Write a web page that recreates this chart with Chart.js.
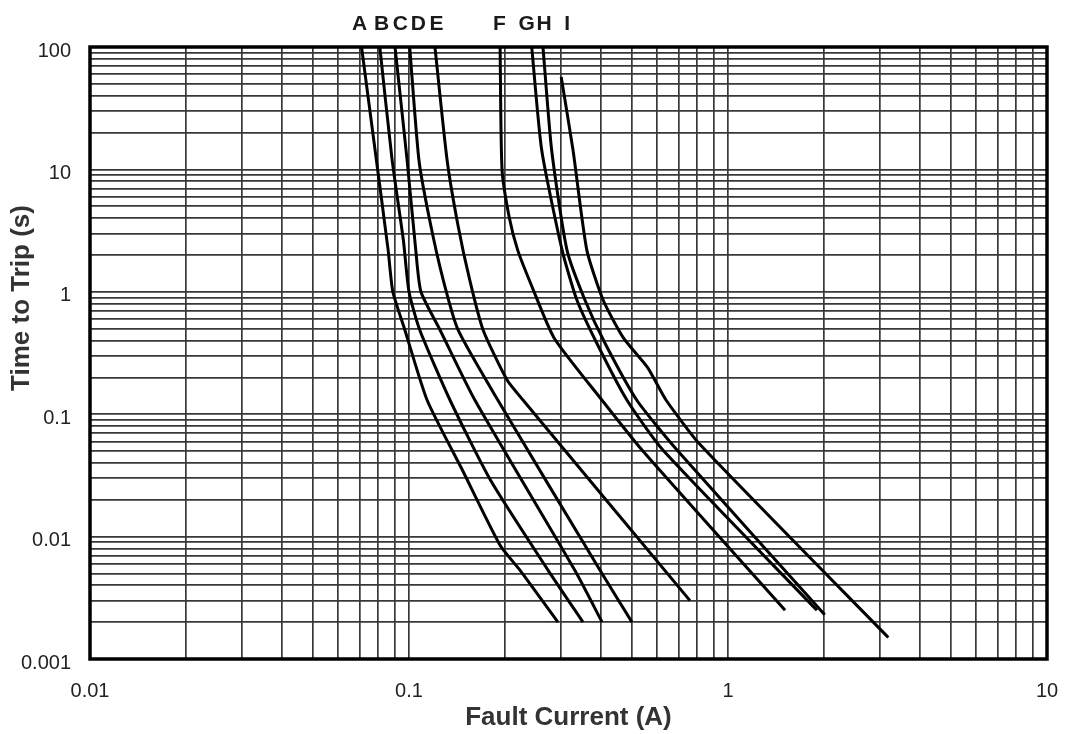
<!DOCTYPE html>
<html>
<head>
<meta charset="utf-8">
<script src="https://cdn.jsdelivr.net/npm/chart.js@4.4.0/dist/chart.umd.min.js"></script>
<style>
  html, body { margin: 0; padding: 0; background: #fff; overflow: hidden; }
  #wrap { width: 1065px; height: 734px; }
  canvas { display: block; }
</style>
</head>
<body>
<div id="wrap"><canvas id="tripChart"></canvas></div>
<script>
// curve names and where their letters sit along the top (in amps)
const curveNames = ['A', 'B', 'C', 'D', 'E', 'F', 'G', 'H', 'I'];
const labelX = [0.070, 0.082, 0.094, 0.107, 0.122, 0.192, 0.234, 0.265, 0.313];

// [fault current (A), time to trip (s)]
const curveA = [[0.071, 100], [0.079, 12], [0.086, 2.2], [0.089, 1], [0.097, 0.49], [0.114, 0.13], [0.147, 0.035], [0.193, 0.0085], [0.223, 0.0053], [0.293, 0.002]];
const curveB = [[0.081, 100], [0.0885, 12], [0.096, 2.65], [0.1, 1], [0.108, 0.49], [0.1345, 0.13], [0.18, 0.029], [0.273, 0.0053], [0.351, 0.002]];
const curveC = [[0.0904, 100], [0.0986, 12], [0.105, 2.19], [0.109, 1], [0.125, 0.49], [0.161, 0.13], [0.331, 0.0053], [0.403, 0.002]];
const curveD = [[0.1005, 100], [0.1074, 12], [0.116, 3.9], [0.128, 1.25], [0.1424, 0.49], [0.19, 0.13], [0.397, 0.0053], [0.5, 0.002]];
const curveE = [[0.1206, 100], [0.1316, 12], [0.1424, 3.5], [0.155, 1.25], [0.1706, 0.49], [0.203, 0.19], [0.228, 0.13], [0.76, 0.003]];
const curveF = [[0.193, 100], [0.1957, 10], [0.206, 4.1], [0.219, 2.2], [0.243, 1.1], [0.285, 0.42], [0.403, 0.13], [0.5375, 0.051], [1.51, 0.0025]];
const curveG = [[0.2425, 100], [0.2606, 14.4], [0.302, 2.19], [0.336, 0.857], [0.388, 0.38], [0.4825, 0.13], [0.625, 0.051], [1.9, 0.0025]];
const curveH = [[0.263, 100], [0.28, 14.4], [0.3128, 2.19], [0.356, 0.857], [0.4116, 0.38], [0.518, 0.13], [0.692, 0.051], [2.01, 0.0023]];
const curveI = [[0.30, 57], [0.3267, 14.4], [0.361, 2.19], [0.406, 0.857], [0.47, 0.42], [0.56, 0.24], [0.64, 0.13], [0.82, 0.056], [3.18, 0.0015]];

const allCurves = [curveA, curveB, curveC, curveD, curveE, curveF, curveG, curveH, curveI];

// axis decades and their labels
const xMajor = [0.01, 0.1, 1, 10];
const xLabels = ['0.01', '0.1', '1', '10'];
const yMajor = [0.001, 0.01, 0.1, 1, 10, 100];
const yLabels = ['0.001', '0.01', '0.1', '1', '10', '100'];
const steps = [1, 2, 3, 4, 5, 6, 7, 8, 9];

const xTitle = 'Fault Current (A)';
const yTitle = 'Time to Trip (s)';

const FONT = '"Liberation Sans", Arial, sans-serif';

// 1..9 grid lines per decade
function logGrid(major) {
  const out = [];
  major.forEach((m, i) => {
    if (i === major.length - 1) { out.push(m); return; }
    steps.forEach(s => out.push(+(m * s).toPrecision(3)));
  });
  return out;
}

function labelFor(major, labels) {
  return (v) => {
    const i = major.findIndex(m => Math.abs(m - v) / m < 1e-6);
    return i >= 0 ? labels[i] : '';
  };
}

// frame, curve letters and the side title
const decorPlugin = {
  id: 'decor',
  afterDraw(chart) {
    const { ctx, chartArea, scales } = chart;
    ctx.save();
    ctx.strokeStyle = '#000';
    ctx.lineWidth = 3.5;
    ctx.strokeRect(chartArea.left, chartArea.top, chartArea.right - chartArea.left, chartArea.bottom - chartArea.top);

    ctx.font = 'bold 21px ' + FONT;
    ctx.fillStyle = '#1a1a1a';
    ctx.textAlign = 'center';
    ctx.textBaseline = 'alphabetic';
    curveNames.forEach((n, i) => {
      ctx.fillText(n, scales.x.getPixelForValue(labelX[i]), 30);
    });

    ctx.translate(22, 298);
    ctx.rotate(-Math.PI / 2);
    ctx.font = 'bold 26px ' + FONT;
    ctx.fillStyle = '#333';
    ctx.textBaseline = 'middle';
    ctx.fillText(yTitle, 0, 0);
    ctx.restore();
  }
};

const ctx = document.getElementById('tripChart').getContext('2d');

new Chart(ctx, {
  type: 'line',
  data: {
    datasets: allCurves.map((c, i) => ({
      label: curveNames[i],
      data: c.map(p => ({ x: p[0], y: p[1] })),
      borderColor: '#000',
      borderWidth: 3,
      pointRadius: 0,
      tension: 0.2,
      fill: false
    }))
  },
  options: {
    responsive: true,
    maintainAspectRatio: false,
    animation: false,
    layout: { padding: { top: 47, right: 18, left: 0, bottom: 0 } },
    plugins: {
      legend: { display: false },
      tooltip: { enabled: false }
    },
    scales: {
      x: {
        type: 'logarithmic',
        min: 0.01,
        max: 10,
        afterBuildTicks: (s) => { s.ticks = logGrid(xMajor).map(v => ({ value: v })); },
        afterFit: (s) => { s.height = 75; },
        // invisible tick marks push the labels down without widening the right padding
        grid: { color: '#383838', lineWidth: 1.7, drawTicks: true, tickLength: 20, tickColor: 'rgba(0,0,0,0)' },
        border: { display: false },
        ticks: {
          autoSkip: false,
          maxRotation: 0,
          padding: 0,
          color: '#222',
          font: { family: FONT, size: 20 },
          callback: labelFor(xMajor, xLabels)
        },
        title: {
          display: true,
          text: xTitle,
          color: '#333',
          font: { family: FONT, size: 26, weight: 'bold' },
          padding: { top: 0, bottom: 1 }
        }
      },
      y: {
        type: 'logarithmic',
        min: 0.001,
        max: 100,
        afterBuildTicks: (s) => { s.ticks = logGrid(yMajor).map(v => ({ value: v })); },
        afterFit: (s) => { s.width = 90; },
        grid: { color: '#383838', lineWidth: 1.7, drawTicks: false },
        border: { display: false },
        ticks: {
          autoSkip: false,
          padding: 19,
          labelOffset: 4,
          color: '#222',
          font: { family: FONT, size: 20 },
          callback: labelFor(yMajor, yLabels)
        }
      }
    }
  },
  plugins: [decorPlugin]
});
</script>
</body>
</html>
